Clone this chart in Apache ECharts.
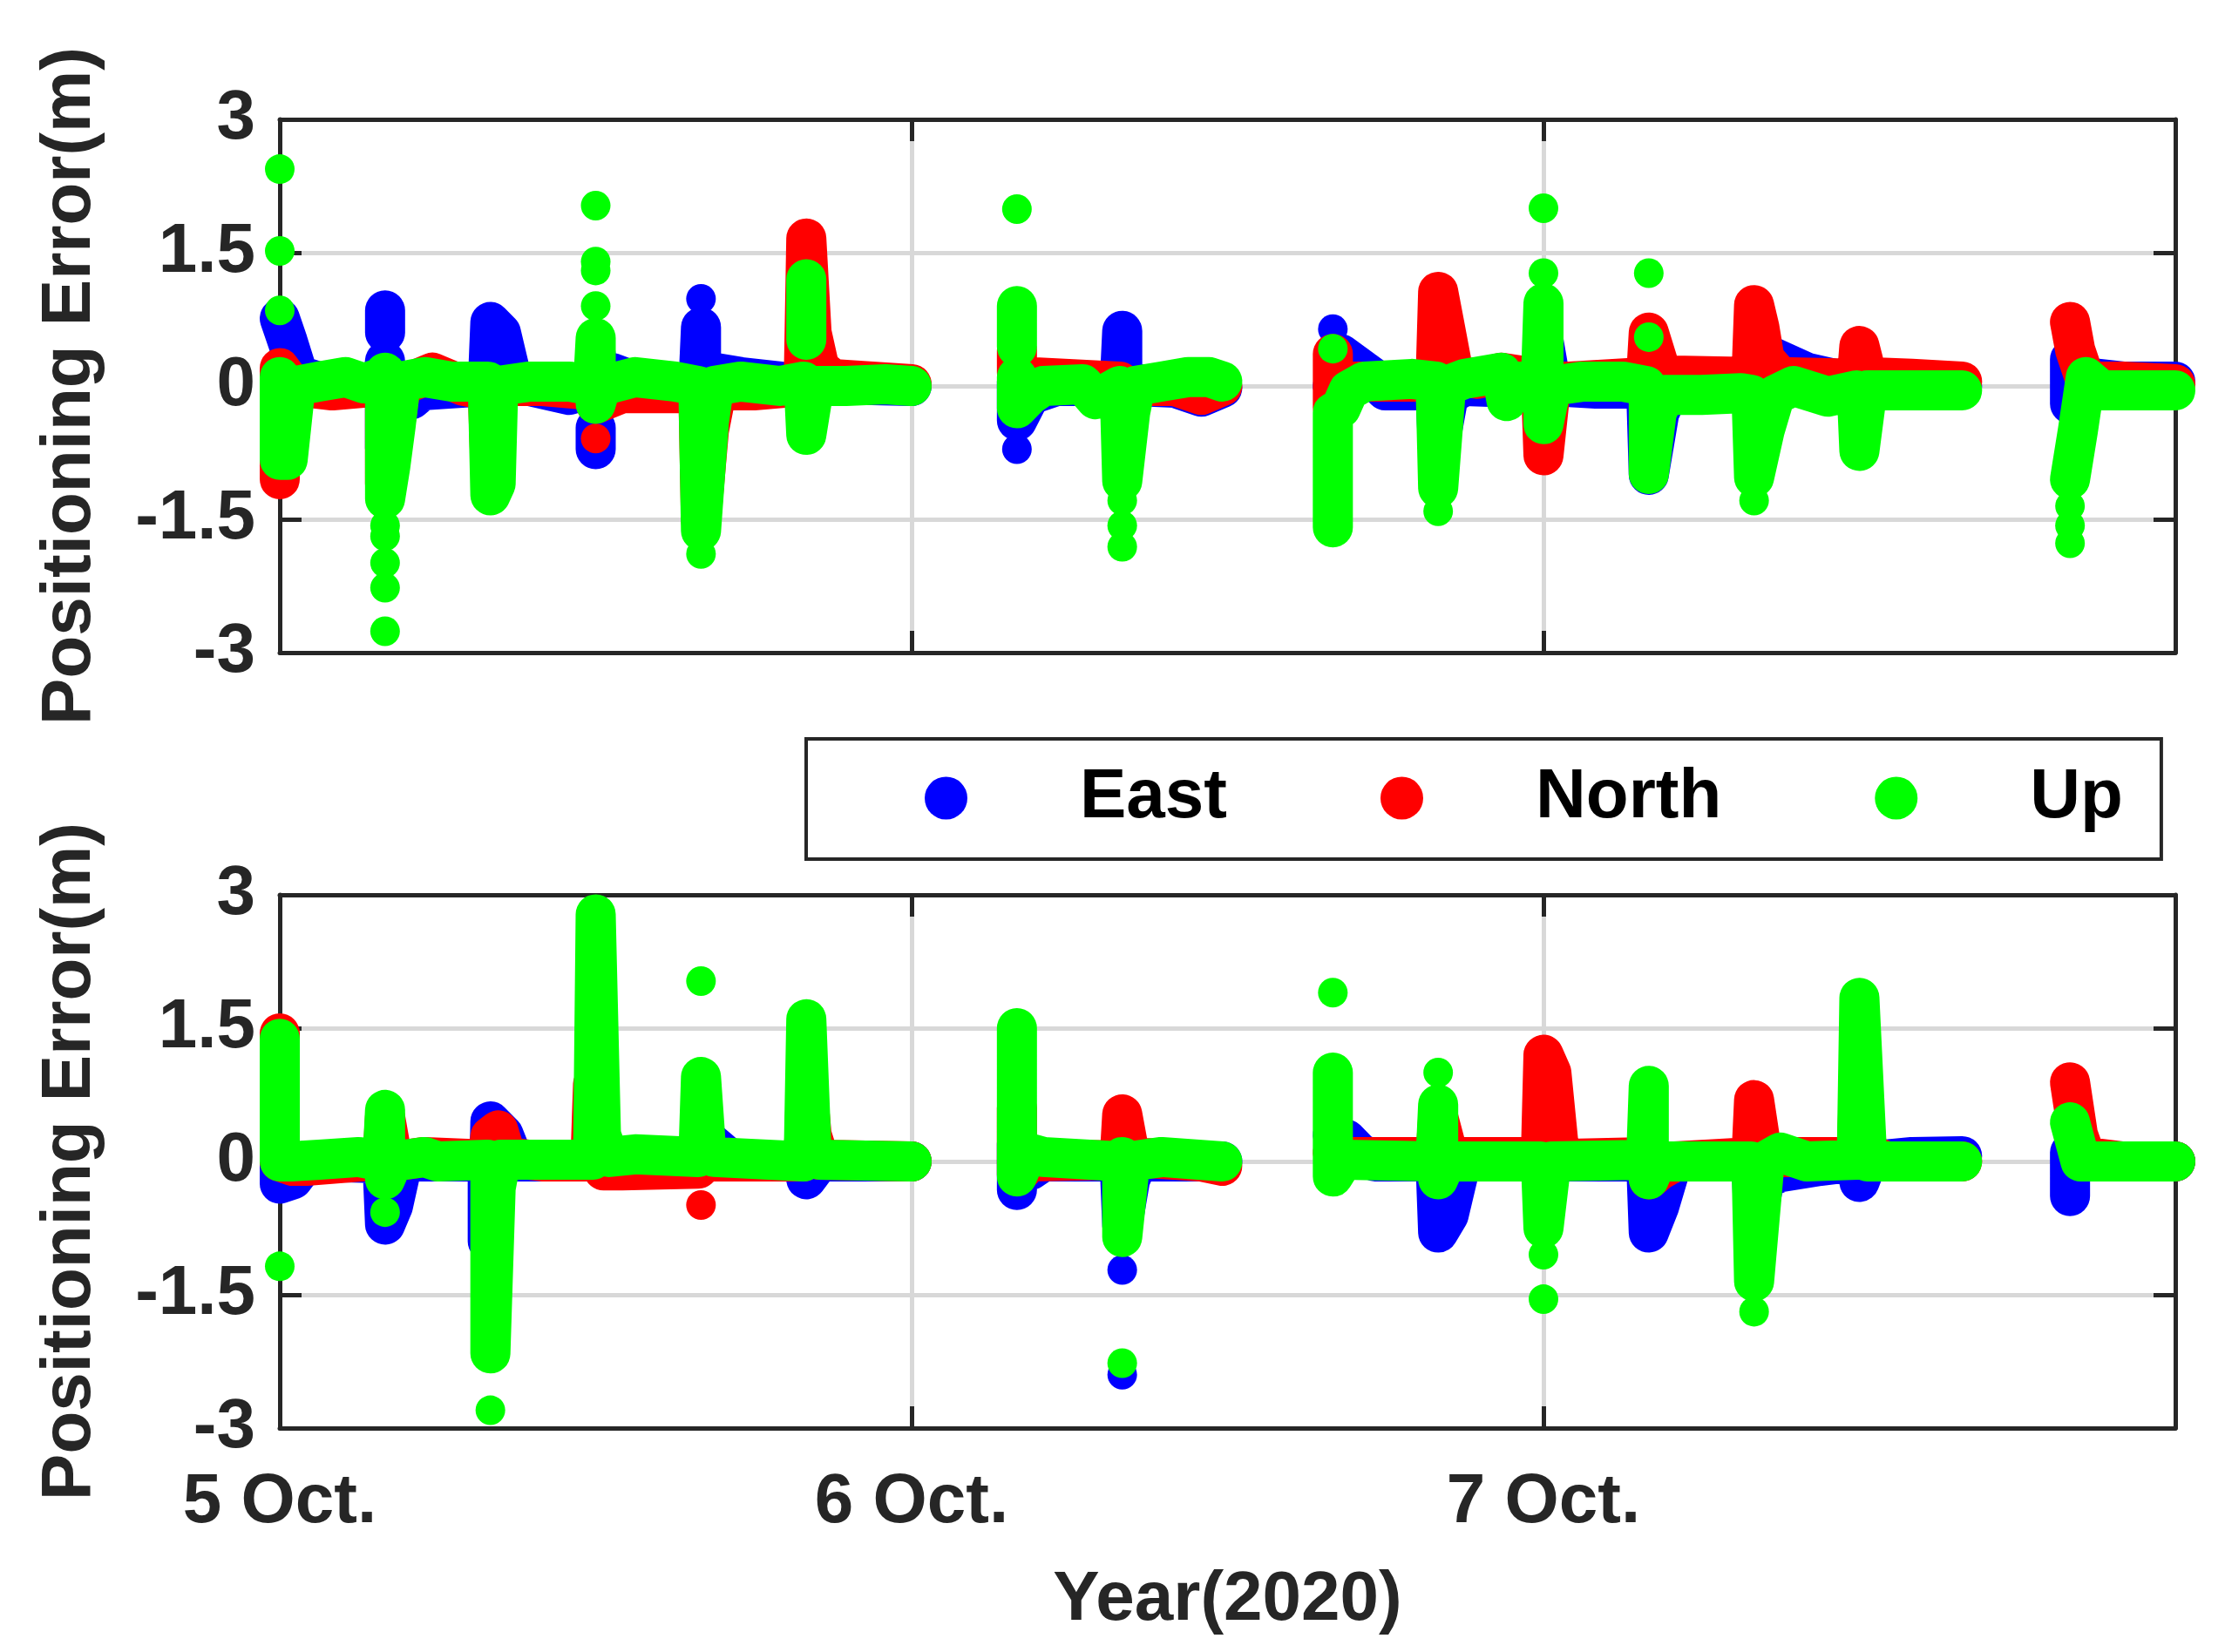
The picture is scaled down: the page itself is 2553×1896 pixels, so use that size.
<!DOCTYPE html>
<html>
<head>
<meta charset="utf-8">
<script src="https://cdn.jsdelivr.net/npm/echarts@6.0.0/dist/echarts.min.js"></script>
<style>
  html, body { margin: 0; padding: 0; background: #fff; }
  #chart { width: 2553px; height: 1896px; }
</style>
</head>
<body>
<div id="chart"></div>
<script>
// x = hours since 5 Oct 00:00, y = positioning error (m); null = gap between runs of epochs
var xTickLabels = ['5 Oct.', '6 Oct.', '7 Oct.', ''];
var seriesNames = ['East', 'North', 'Up'];

var eastTop = [
  [0,0.76],[0.3,0.5],[0.7,0.12],[2,0.0],[3.9,0.0],[4,0.28],[4,-0.7],[4.3,-0.3],[4.6,-0.05],[5,-0.15],[5.4,-0.05],[7.9,0.0],[8,0.72],[8.4,0.6],[8.8,0.1],[9.5,0.0],[11,-0.1],[11.9,0.0],[12,0.36],[12,-0.1],[12.6,0.15],[13.5,0.05],[15.9,0.0],[16,0.66],[16,0.12],[16.5,0.15],[17.5,0.1],[19,0.05],[19.9,0.0],[20,0.2],[21,0.02],[24,0.0], null,
  [4,0.85],[4,0.6], null,
  [12,-0.47],[12,-0.71], null,
  [16,0.98], null,
  [28,-0.71], null,
  [28,0.05],[28,-0.39],[28.5,-0.1],[29.5,0.0],[31.9,0.0],[32,0.62],[32,0.17],[32.5,0.0],[34,-0.02],[35,-0.12],[35.8,-0.02], null,
  [40,0.64], null,
  [40,0.0],[40.3,0.36],[41.5,0.1],[42,-0.05],[43.9,-0.05],[44,-0.75],[44.4,-0.1],[45,0.0],[47.9,-0.03],[48,0.51],[48.3,0.0],[50,-0.03],[51.9,-0.03],[52,-1.0],[52.4,-0.3],[52.8,-0.05],[55.9,0.05],[56,0.56],[56.5,0.35],[58,0.15],[59.5,0.05],[63.9,0.0], null,
  [68,-0.2],[68,0.3],[68.5,0.1],[70,0.05],[72,0.05]
];
var northTop = [
  [0,-1.05],[0,0.2],[0.5,0.0],[2,-0.05],[3.9,0.0],[4,0.1],[4,-1.1],[4.3,-0.6],[4.6,0.0],[5.8,0.15],[7,0.0],[7.9,-0.05],[8,-0.9],[8.3,0.0],[10,0.0],[11.9,-0.05],[12,-0.2],[13,-0.08],[15.9,-0.08],[16,-1.51],[16.3,-0.5],[16.6,-0.05],[18,-0.05],[19.9,0.0],[20,1.66],[20.2,0.6],[20.5,0.2],[21,0.08],[22.5,0.05],[24,0.02], null,
  [12,-0.59], null,
  [28,0.4],[28,0.15],[28.5,0.1],[31.9,0.05],[32,-0.5],[32.4,0.0],[34,0.0],[35,-0.1],[35.8,0.0], null,
  [40,0.36],[40,-0.24],[40.5,0.05],[42,0.05],[43.9,0.05],[44,1.06],[44.2,0.75],[44.6,0.12],[45.5,0.08],[46.4,0.15],[47.9,0.08],[48,-0.78],[48.3,0.05],[49,0.05],[51.9,0.1],[52,0.6],[52.5,0.12],[55.9,0.1],[56,0.91],[56.2,0.66],[56.4,0.3],[57,0.1],[59.9,0.08],[60,0.45],[60.3,0.1],[62,0.08],[63.9,0.05], null,
  [68,0.72],[68.2,0.4],[68.6,0.05],[70,0.05],[72,0.02]
];
var upTop = [
  [0,2.44], null, [0,1.52], null, [0,0.85], null,
  [0,0.1],[0,-0.83],[0.3,-0.83],[0.6,0.0],[1.5,0.05],[2.5,0.1],[3.2,0.03],[3.9,0.1],[4,0.15],[4,-1.27],[4.2,-0.9],[4.4,-0.45],[4.6,0.05],[5.5,0.1],[6.5,0.05],[7.9,0.05],[8,-1.23],[8.2,-1.1],[8.3,0.0],[9.5,0.05],[11,0.05],[11.9,0.0],[12,0.54],[12,-0.2],[12.2,0.0],[13.5,0.1],[15,0.05],[15.9,0.0],[16,-1.63],[16.3,-0.4],[16.5,0.0],[17.5,0.05],[19,0.0],[19.9,0.05],[20,-0.55],[20.3,0.0],[21.5,0.0],[23,0.02],[24,0.0], null,
  [4,-1.57], null, [4,-1.69], null, [4,-1.99], null, [4,-2.27], null, [4,-2.76], null,
  [12,2.03], null, [12,1.40], null, [12,1.30], null, [12,0.90], null,
  [16,-1.89], null,
  [20,1.2],[20,0.52], null,
  [28,1.99], null, [28,0.90],[28,0.44], null,
  [28,0.1],[28,-0.25],[28.5,-0.1],[29,0.0],[30.5,0.02],[31,-0.15],[31.9,0.0],[32,-1.07],[32.3,-0.3],[32.5,0.0],[33.5,0.05],[34.5,0.1],[35.3,0.1],[35.8,0.05], null,
  [32,-1.29], null, [32,-1.57], null, [32,-1.81], null,
  [40,0.42], null,
  [40,-1.59],[40,-0.3],[40.3,-0.25],[40.6,-0.05],[41.2,0.05],[43,0.08],[43.9,0.05],[44,-1.15],[44.3,0.0],[45,0.08],[46.4,0.15],[46.6,-0.17],[47,0.05],[47.9,0.05],[48,0.93],[48,-0.43],[48.3,0.0],[49.5,0.05],[51,0.05],[51.9,0.0],[52,-0.1],[52,-0.99],[52.3,-0.3],[52.6,-0.1],[54,-0.1],[55.5,-0.08],[55.9,-0.1],[56,-1.03],[56.4,-0.5],[56.8,-0.1],[57.5,0.0],[58.8,-0.12],[59.9,-0.05],[60,-0.73],[60.3,-0.05],[61.5,-0.05],[63.9,-0.05], null,
  [44,-1.41], null, [48,2.0], null, [48,1.27], null, [52,1.27], null, [52,0.55], null, [56,-1.29], null,
  [68,-1.05],[68.3,-0.5],[68.6,0.1],[69.2,-0.05],[71,-0.05],[72,-0.05], null,
  [68,-1.35], null, [68,-1.57], null, [68,-1.77]
];

var eastBottom = [
  [0,0.2],[0,-0.25],[0.5,-0.2],[1,0.0],[3.9,-0.02],[4,-0.71],[4.3,-0.5],[4.6,-0.1],[5,0.0],[7.9,0.0],[7.9,-0.9],[8,0.45],[8.5,0.3],[8.9,0.0],[10,0.0],[11.9,0.0],[12,0.1],[12.5,0.05],[15.9,0.0],[16,0.3],[16.6,0.15],[17.2,0.0],[19.9,0.0],[20,-0.2],[20.5,0.0],[24,0.0], null,
  [28,-0.32],[28,0.2],[28.5,-0.1],[29,0.0],[31.9,0.0],[32,-0.72],[32.3,-0.2],[32.6,0.0],[35.8,0.0], null,
  [32,-1.22], null, [32,-2.4], null,
  [40,0.3],[40.5,0.25],[41,0.1],[41.6,0.0],[43.9,0.0],[44,-0.8],[44.4,-0.6],[44.8,-0.1],[45.2,0.0],[47.9,0.05],[48,0.2],[48.5,0.0],[51.9,0.0],[52,-0.8],[52.4,-0.5],[52.8,-0.1],[53.2,0.0],[55.9,0.0],[56,-0.8],[56.4,-0.2],[57,-0.12],[58.5,-0.05],[59.9,0.0],[60,-0.23],[60.3,0.0],[62,0.05],[63.9,0.06], null,
  [68,-0.39],[68,0.1],[68.5,0.0],[70,0.0],[72,0.0]
];
var northBottom = [
  [0,1.44],[0,0.0],[0.5,-0.05],[1,-0.05],[3.9,0.02],[4,0.5],[4.3,0.0],[5.5,0.05],[7.9,0.02],[8,0.28],[8.3,0.35],[8.6,0.05],[10,0.0],[11.8,0.0],[11.9,0.87],[12.1,0.2],[12.3,-0.1],[13,-0.1],[15.9,-0.08],[16,0.1],[16.4,0.0],[19.9,0.0],[20,0.95],[20.2,0.3],[20.5,0.02],[24,0.0], null,
  [16,-0.49], null,
  [28,0.6],[28,-0.15],[28.5,0.0],[31.9,0.02],[32,0.53],[32.3,0.05],[35,0.0],[35.8,-0.05], null,
  [40,0.1],[40.5,0.05],[43.9,0.05],[44,0.5],[44.4,0.05],[47.9,0.05],[48,1.2],[48.3,1.0],[48.6,0.1],[49,0.03],[51.9,0.05],[52,-0.2],[52.4,-0.1],[53,0.0],[55.9,0.05],[56,0.69],[56.3,0.1],[57,0.05],[59.9,0.05],[60,1.0],[60.3,0.1],[61,0.0],[63.9,0.0], null,
  [68,0.89],[68.3,0.3],[68.6,0.05],[70,0.0],[72,0.0]
];
var upBottom = [
  [0,1.38],[0,0.0],[0.4,0.0],[1.5,0.02],[3,0.05],[3.9,0.0],[4,0.58],[4,-0.2],[4.3,0.0],[5.5,0.05],[6,0.0],[7.9,0.02],[8,0.0],[8,-2.16],[8.2,-0.3],[8.4,0.02],[10,0.02],[11.9,0.02],[12,2.78],[12.2,0.3],[12.5,0.05],[13.5,0.08],[15.9,0.05],[16,0.95],[16.2,0.1],[16.5,0.05],[19.9,0.0],[20,1.6],[20.2,0.1],[20.5,0.02],[24,0.0], null,
  [0,-1.18], null, [4,-0.57], null, [8,-2.8], null, [16,2.03], null,
  [28,1.5],[28,-0.17],[28.4,0.1],[29,0.05],[31.9,0.0],[32,0.05],[32,-0.85],[32.3,0.0],[33.5,0.05],[35.8,0.0], null,
  [32,-2.27], null,
  [40,1.9], null,
  [40,1.0],[40,-0.17],[40.4,0.02],[43.9,0.0],[44,0.64],[44,-0.2],[44.3,0.0],[47.9,0.0],[48,-0.75],[48.3,0.0],[51.9,0.02],[52,0.85],[52,-0.2],[52.3,0.0],[55.9,0.0],[56,-1.35],[56.4,0.0],[57,0.1],[58,0.0],[59.9,0.02],[60,1.84],[60.3,0.0],[63.9,0.0], null,
  [44,1.0], null, [48,-1.05], null, [48,-1.55], null, [56,-1.69], null,
  [68,0.44],[68.4,0.0],[70,0.0],[72,0.0]
];

var colors = { East: '#0000ff', North: '#ff0000', Up: '#00ff00' };
var layer = { East: 2, North: 3, Up: 4 };
var FONT = "'Liberation Sans', Arial, sans-serif";
var INK = '#262626';

function xAxisFor(grid, pos, labels) {
  return {
    type: 'value', gridIndex: grid, position: pos,
    min: 0, max: 72, interval: 24,
    axisLine: { show: true, onZero: false, lineStyle: { color: INK, width: 5 } },
    axisTick: { show: true, inside: true, length: 25, lineStyle: { color: INK, width: 5 } },
    axisLabel: {
      show: labels, margin: 46, fontSize: 80, fontWeight: 'bold', fontFamily: FONT, color: INK,
      formatter: function (v) { return xTickLabels[v / 24]; }
    },
    splitLine: { show: pos === 'bottom', showMinLine: false, showMaxLine: false, lineStyle: { color: '#d8d8d8', width: 5 } },
    name: (labels ? 'Year(2020)' : ''), nameLocation: 'middle', nameGap: 158,
    nameTextStyle: { fontSize: 80, fontWeight: 'bold', fontFamily: FONT, color: INK }
  };
}
function yAxisFor(grid, pos) {
  return {
    type: 'value', gridIndex: grid, position: pos,
    min: -3, max: 3, interval: 1.5,
    axisLine: { show: true, onZero: false, lineStyle: { color: INK, width: 5 } },
    axisTick: { show: true, inside: true, length: 25, lineStyle: { color: INK, width: 5 } },
    axisLabel: { show: pos === 'left', margin: 28, fontSize: 80, fontWeight: 'bold', fontFamily: FONT, color: INK },
    splitLine: { show: pos === 'left', showMinLine: false, showMaxLine: false, lineStyle: { color: '#d8d8d8', width: 5 } },
    name: (pos === 'left' ? 'Positioning Error(m)' : ''), nameLocation: 'middle', nameGap: 200,
    nameTextStyle: { fontSize: 80, fontWeight: 'bold', fontFamily: FONT, color: INK }
  };
}

function toData(arr) {
  return arr.map(function (p) { return p === null ? ['-', '-'] : p; });
}
function makeSeries(name, data, axis) {
  return {
    name: name, type: 'line', data: toData(data),
    xAxisIndex: axis[0], yAxisIndex: axis[1], z: layer[name],
    showSymbol: true, symbol: 'circle', symbolSize: 34,
    connectNulls: false, clip: false, silent: true,
    itemStyle: { color: colors[name] },
    lineStyle: { color: colors[name], width: 46, cap: 'round', join: 'round' },
    emphasis: { disabled: true }
  };
}

var chart = echarts.init(document.getElementById('chart'));
chart.setOption({
  animation: false,
  backgroundColor: '#fff',
  grid: [
    { left: 321, top: 137, width: 2175, height: 612 },
    { left: 321, top: 1027, width: 2175, height: 612 }
  ],
  xAxis: [xAxisFor(0, 'bottom', false), xAxisFor(0, 'top', false), xAxisFor(1, 'bottom', true), xAxisFor(1, 'top', false)],
  yAxis: [yAxisFor(0, 'left'), yAxisFor(0, 'right'), yAxisFor(1, 'left'), yAxisFor(1, 'right')],
  legend: {
    left: 925, top: 848, orient: 'horizontal',
    padding: [28, 44, 30, 136],
    borderColor: INK, borderWidth: 4,
    itemGap: 176, itemWidth: 49, itemHeight: 49,
    selectedMode: false,
    data: seriesNames.map(function (n) { return { name: n, icon: 'circle' }; }),
    textStyle: { fontSize: 80, fontWeight: 'bold', fontFamily: FONT, color: '#000', padding: [0, 0, 0, 124] }
  },
  series: [
    makeSeries('East', eastTop, [0, 0]),
    makeSeries('East', eastBottom, [2, 2]),
    makeSeries('North', northTop, [0, 0]),
    makeSeries('North', northBottom, [2, 2]),
    makeSeries('Up', upTop, [0, 0]),
    makeSeries('Up', upBottom, [2, 2])
  ]
});
</script>
</body>
</html>
